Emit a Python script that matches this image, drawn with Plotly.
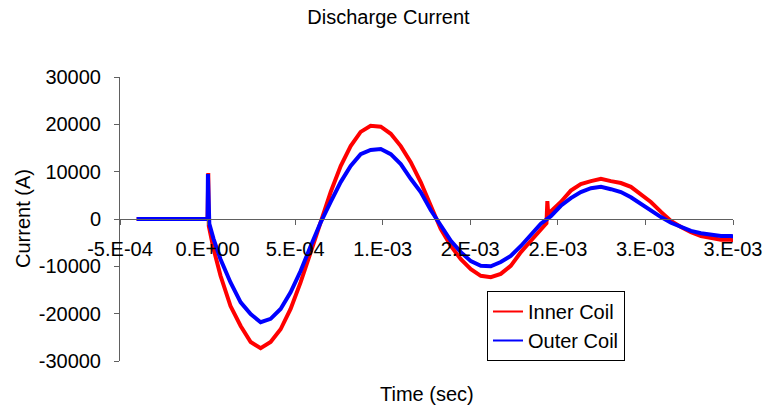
import plotly.graph_objects as go

# ---- data ----
inner_time_us = [-405, -300, -200, -100, 0, 4, 7, 34, 74, 131, 189, 246, 303, 360, 417, 474, 531, 589,
                 646, 703, 760, 817, 874, 931, 989, 1046, 1103, 1160, 1217, 1274, 1331, 1389, 1446,
                 1503, 1560, 1617, 1674, 1731, 1789, 1846, 1903, 1935, 1940, 1945, 1960, 2017, 2074,
                 2131, 2189, 2246, 2303, 2360, 2417, 2474, 2531, 2589, 2646, 2703, 2760, 2817, 2874,
                 2931, 2989, 3005]
inner_current = [0, 0, 0, 0, 0, 9700, -1500, -6300, -12000, -18400, -22600, -26000, -27300, -26000,
                 -23300, -19000, -13400, -7000, -700, 5700, 11200, 15400, 18400, 19700, 19500, 18000,
                 15400, 12000, 7800, 2800, -2100, -5700, -8500, -10600, -12000, -12300, -11600, -9900,
                 -7000, -4600, -2100, -900, 3800, 1000, 1600, 3600, 6000, 7400, 8000, 8500, 8000, 7600,
                 6800, 5300, 3600, 1500, -400, -1700, -2800, -3600, -4000, -4400, -4400, -4500]

outer_time_us = [-405, -300, -200, -100, 0, 2, 5, 10, 34, 74, 131, 189, 246, 303, 360, 417, 474, 531,
                 589, 646, 703, 760, 817, 874, 931, 989, 1046, 1103, 1160, 1217, 1274, 1331, 1389,
                 1446, 1503, 1560, 1617, 1674, 1731, 1789, 1846, 1903, 1960, 2017, 2074, 2131, 2189,
                 2246, 2303, 2360, 2417, 2474, 2531, 2589, 2646, 2703, 2760, 2817, 2874, 2931, 2989,
                 3005]
outer_current = [0, 0, 0, 0, 0, 9500, 500, -1000, -4200, -8500, -13400, -17600, -20100, -21800, -21100,
                 -19000, -15500, -11000, -5700, -700, 3600, 7800, 11200, 13700, 14600, 14800, 13700,
                 11600, 8500, 5700, 1900, -1300, -4600, -7000, -8900, -9900, -10000, -9100, -7800,
                 -5700, -3200, -1000, 600, 2800, 4400, 5700, 6500, 6800, 6300, 5700, 4600, 3200, 1700,
                 400, -800, -1700, -2500, -3000, -3400, -3600, -3600, -3700]

series_names = ["Inner Coil", "Outer Coil"]
x_tick_values = [-5e-4, 0, 5e-4, 1e-3, 1.5e-3, 2e-3, 2.5e-3, 3e-3]
x_tick_labels = ["-5.E-04", "0.E+00", "5.E-04", "1.E-03", "2.E-03", "2.E-03", "3.E-03", "3.E-03"]
y_tick_values = [-30000, -20000, -10000, 0, 10000, 20000, 30000]
y_tick_labels = ["-30000", "-20000", "-10000", "0", "10000", "20000", "30000"]

inner_t = [t * 1e-6 for t in inner_time_us]
outer_t = [t * 1e-6 for t in outer_time_us]

FONT = "Arial, Liberation Sans, sans-serif"
FS = 20
RED = "#FF0000"
BLUE = "#0000FF"
AXC = "#606060"

fig = go.Figure()
fig.add_trace(go.Scatter(x=inner_t, y=inner_current, mode="lines", name=series_names[0],
                         line=dict(color=RED, width=4), showlegend=False))
fig.add_trace(go.Scatter(x=outer_t, y=outer_current, mode="lines", name=series_names[1],
                         line=dict(color=BLUE, width=4), showlegend=False))
# legend samples (thin lines as in the reference legend)
fig.add_trace(go.Scatter(x=[None], y=[None], mode="lines", name=series_names[0],
                         line=dict(color=RED, width=2)))
fig.add_trace(go.Scatter(x=[None], y=[None], mode="lines", name=series_names[1],
                         line=dict(color=BLUE, width=2)))

W, H = 777, 409
L, R, T, B = 120, 44, 77, 48
pw, ph = W - L - R, H - T - B

fig.update_layout(
    width=W, height=H,
    margin=dict(l=L, r=R, t=T, b=B),
    paper_bgcolor="white", plot_bgcolor="white",
    font=dict(family=FONT, size=FS, color="black"),
    title=dict(text="Discharge Current", x=0.5, xanchor="center", xref="container",
               y=1 - 17 / H, yanchor="middle", yref="container",
               font=dict(family=FONT, size=FS, color="black")),
    xaxis=dict(range=[-5e-4, 3e-3], anchor="free", position=0.5,
               tickvals=x_tick_values, ticktext=x_tick_labels,
               ticks="outside", ticklen=5, tickcolor=AXC, ticklabelstandoff=7,
               showline=True, linecolor=AXC, linewidth=1,
               showgrid=False, zeroline=False,
               tickfont=dict(family=FONT, size=FS, color="black")),
    yaxis=dict(range=[-30000, 30000],
               tickvals=y_tick_values, ticktext=y_tick_labels,
               ticks="outside", ticklen=5, tickcolor=AXC, ticklabelstandoff=9,
               showline=True, linecolor=AXC, linewidth=1,
               showgrid=False, zeroline=False,
               tickfont=dict(family=FONT, size=FS, color="black")),
    legend=dict(x=(487 - L) / pw, y=(H - B - 291) / ph, xanchor="left", yanchor="top",
                bgcolor="white", bordercolor="black", borderwidth=1,
                font=dict(family=FONT, size=FS, color="black")),
    annotations=[
        dict(text="Current (A)", xref="paper", yref="paper", x=(23 - L) / pw, y=0.5,
             textangle=-90, showarrow=False, xanchor="center", yanchor="middle",
             font=dict(family=FONT, size=FS, color="black")),
        dict(text="Time (sec)", xref="paper", yref="paper", x=0.5, y=(H - B - 394) / ph,
             showarrow=False, xanchor="center", yanchor="middle",
             font=dict(family=FONT, size=FS, color="black")),
    ],
)

fig.write_html("out.html", config={"displayModeBar": False},
               post_script="document.body.style.margin='0';")
